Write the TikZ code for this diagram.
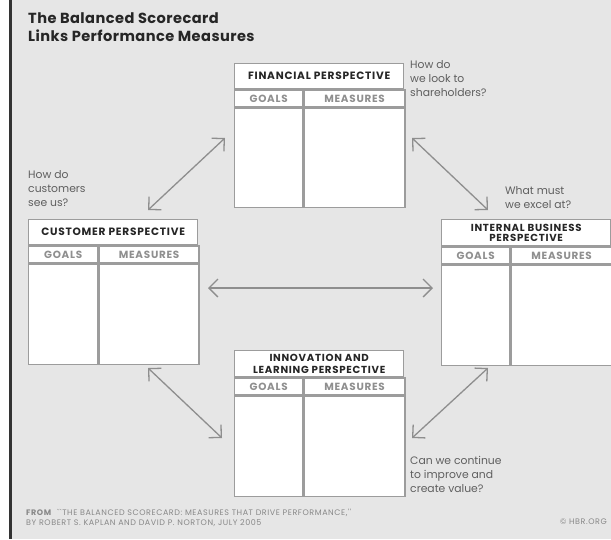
\documentclass[tikz,border=0pt]{standalone}
\usepackage{fontspec}
\setmainfont{Poppins}
\newfontfamily\bscAncha[LetterSpace=7]{Poppins}
\newfontfamily\bscMedia[LetterSpace=3]{Poppins}
\usetikzlibrary{positioning,arrows.meta}
\definecolor{bscGris}{HTML}{E6E6E6}
\definecolor{bscBorde}{HTML}{9C9C9C}
\definecolor{bscTexto}{HTML}{6A6A6A}
\definecolor{bscFlecha}{HTML}{8E8E8E}

\begin{document}
\begin{tikzpicture}[x=1pt, y=-1pt,
      ttl/.style={draw=bscBorde, line width=1.4pt, fill=white, minimum width=169pt,
                  minimum height=#1, inner sep=0pt, anchor=north west, align=center,
                  font=\bscAncha\fontsize{10.6}{10}\selectfont\bfseries, text=black!85},
      hdr/.style={draw=bscBorde, line width=1.4pt, fill=white, minimum width=#1,
                  minimum height=17pt, inner sep=0pt, anchor=north west,
                  font=\bscAncha\fontsize{10.4}{10}\selectfont\bfseries, text=bscTexto!75},
      cell/.style={draw=bscBorde, line width=1.4pt, fill=white, minimum width=#1,
                   minimum height=100pt, inner sep=0pt, anchor=north west},
      arr/.style={{Straight Barb[length=9pt,width=18pt]}-{Straight Barb[length=9pt,width=18pt]},
                  draw=bscFlecha, line width=1.3pt},
      ques/.style={anchor=north west, align=left, inner sep=0pt,
                   font=\fontsize{10.8}{14}\selectfont, text=bscTexto!90!black}]
    \useasboundingbox (0,0) rectangle (611,539);
    % fondo y barra
    \fill[white] (0,0) rectangle (611,539);
    \fill[bscGris] (12,0) rectangle (611,539);
    \fill[black!80] (9,0) rectangle (12,539);
    % titulo
    \node[anchor=north west, inner sep=0pt, align=left, text=black!85,
          font=\bscMedia\fontsize{14.6}{18}\selectfont\bfseries] (tit) at (28,12)
          {The Balanced Scorecard\\Links Performance Measures};
    % financial
    \node[ttl=25pt] (finT) at (234,63) {FINANCIAL PERSPECTIVE};
    \node[hdr=68pt] (finG) at (finT.south west) {GOALS};
    \node[hdr=101pt] (finM) at (finG.north east) {MEASURES};
    \node[cell=68pt, minimum height=99pt] (finGb) at (finG.south west) {};
    \node[cell=101pt, minimum height=99pt] (finMb) at (finM.south west) {};
    \node[ques] (finQ) at (410,60) {How do\\we look to\\shareholders?};
    % customer
    \node[ttl=25pt] (cusT) at (28,219) {CUSTOMER PERSPECTIVE};
    \node[hdr=69pt] (cusG) at (cusT.south west) {GOALS};
    \node[hdr=100pt] (cusM) at (cusG.north east) {MEASURES};
    \node[cell=69pt] (cusGb) at (cusG.south west) {};
    \node[cell=100pt] (cusMb) at (cusM.south west) {};
    \node[ques] (cusQ) at (28,170) {How do\\customers\\see us?};
    % internal business
    \node[ttl=26pt, font=\bscAncha\fontsize{10.2}{10}\selectfont\bfseries] (intT) at (441,219)
          {INTERNAL BUSINESS\\PERSPECTIVE};
    \node[hdr=68pt] (intG) at (intT.south west) {GOALS};
    \node[hdr=101pt] (intM) at (intG.north east) {MEASURES};
    \node[cell=68pt] (intGb) at (intG.south west) {};
    \node[cell=101pt] (intMb) at (intM.south west) {};
    \node[ques] (intQ) at (505,186) {What must\\we excel at?};
    % innovation and learning
    \node[ttl=26pt, font=\bscAncha\fontsize{10.2}{11.5}\selectfont\bfseries] (innT) at (234,350)
          {INNOVATION AND\\LEARNING PERSPECTIVE};
    \node[hdr=68pt] (innG) at (innT.south west) {GOALS};
    \node[hdr=101pt] (innM) at (innG.north east) {MEASURES};
    \node[cell=68pt] (innGb) at (innG.south west) {};
    \node[cell=101pt] (innMb) at (innM.south west) {};
    \node[ques] (innQ) at (410,456) {Can we continue\\to improve and\\create value?};
    % flechas
    \coordinate (finL) at (225,138); \coordinate (cusU) at (148,210);
    \coordinate (finR) at (412,138); \coordinate (intU) at (488,210);
    \coordinate (cusR) at (208,288); \coordinate (intL) at (433,288);
    \coordinate (cusD) at (148,368); \coordinate (innL) at (222,438);
    \coordinate (intD) at (488,368); \coordinate (innR) at (412,438);
    \draw[arr] (finL) -- (cusU);
    \draw[arr] (finR) -- (intU);
    \draw[arr] (cusR) -- (intL);
    \draw[arr] (cusD) -- (innL);
    \draw[arr] (intD) -- (innR);
    % pie
    \node[anchor=north west, inner sep=0pt, align=left, text=bscTexto!80,
          font=\bscAncha\fontsize{8}{10}\selectfont] (pie) at (26,509)
          {\textbf{FROM}\ \ ``THE BALANCED SCORECARD: MEASURES THAT DRIVE PERFORMANCE,''\\
           BY ROBERT S. KAPLAN AND DAVID P. NORTON, JULY 2005};
    \node[anchor=north east, inner sep=0pt, text=bscTexto!80,
          font=\bscAncha\fontsize{8}{10}\selectfont] (hbr) at (607,519) {\textcopyright\ HBR.ORG};
  \end{tikzpicture}
\end{document}
